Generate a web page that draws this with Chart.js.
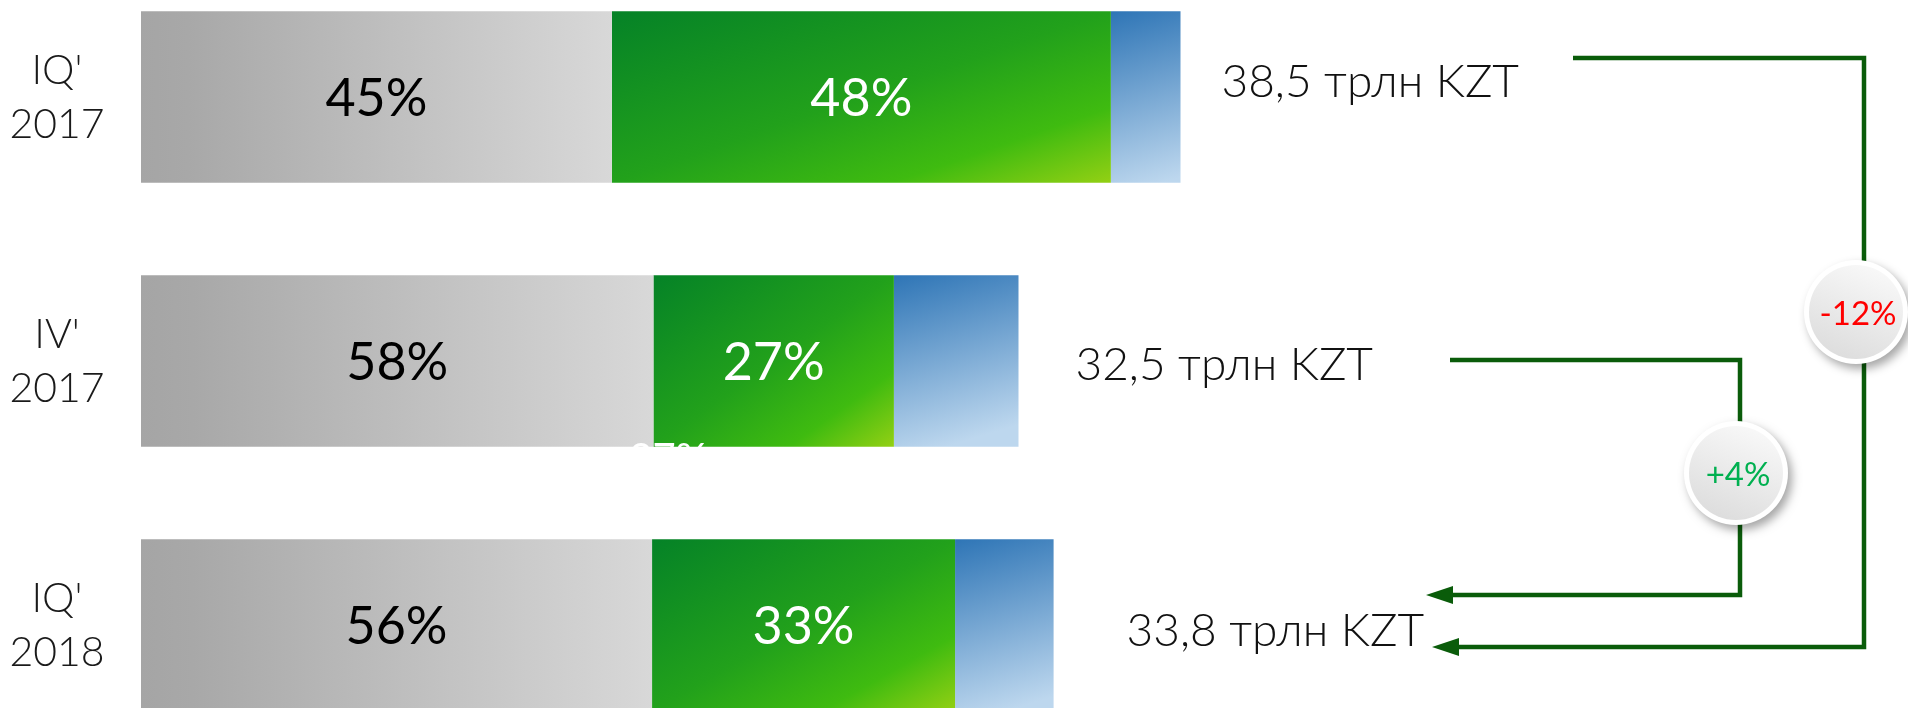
<!DOCTYPE html>
<html>
<head>
<meta charset="utf-8">
<script src="https://cdn.jsdelivr.net/npm/chart.js@4.4.1/dist/chart.umd.min.js"></script>
<style>
    html, body { margin: 0; padding: 0; background: #fff; }
    #wrap { width: 1908px; height: 708px; }
</style>
</head>
<body>
<div id="wrap"><canvas id="myChart" width="1908" height="708"></canvas></div>
<script>
var periods = [["IQ'", "2017"], ["IV'", "2017"], ["IQ'", "2018"]];
var totals = [38.5, 32.5, 33.8];            // трлн KZT
var shareGray = [45.3, 58.4, 56.0];         // %
var shareGreen = [48.0, 27.4, 33.2];
var shareBlue = [6.7, 14.2, 10.8];
var totalLabels = ["38,5 трлн KZT", "32,5 трлн KZT", "33,8 трлн KZT"];
var changeLabels = ["-12%", "+4%"];
var changeColors = ["#ff0000", "#00b050"];

var lineColor = "#0a5c0a";
var catPercent = 0.65;

function partOfTotal (shares) {
    return shares.map(function (s, i) { return totals[i] * s / 100; });
}

// pixel box of one bar, from the scales
function barBox (context) {
    var chart = context.chart;
    var xs = chart.scales.x, ys = chart.scales.y;
    if (!xs || !ys || !chart.chartArea) return null;
    var i = context.dataIndex;
    var start = 0;
    for (var d = 0; d < context.datasetIndex; d++) {
        start += chart.data.datasets[d].data[i];
    }
    var end = start + chart.data.datasets[context.datasetIndex].data[i];
    var pitch = Math.abs(ys.getPixelForValue(1) - ys.getPixelForValue(0));
    var h = pitch * catPercent;
    var yc = ys.getPixelForValue(i);
    return { x0: xs.getPixelForValue(start), x1: xs.getPixelForValue(end), y0: yc - h / 2, y1: yc + h / 2 };
}

// diagonal gradient, corner to corner, the way office "scaled with shape" does it
function diagGradient (c, b, stops) {
    var w = b.x1 - b.x0, h = b.y1 - b.y0;
    var k = 2 * w * h / (w * w + h * h);
    var g = c.createLinearGradient(b.x0, b.y0, b.x0 + h * k, b.y0 + w * k);
    stops.forEach(function (s) { g.addColorStop(s[0], s[1]); });
    return g;
}

function grayFill (context) {
    var b = barBox(context);
    if (!b) return "#bdbdbd";
    var g = context.chart.ctx.createLinearGradient(b.x0, 0, b.x1, 0);
    g.addColorStop(0, "#a5a5a5");
    g.addColorStop(0.1, "#a8a8a8");
    g.addColorStop(1, "#d8d8d8");
    return g;
}

function greenFill (context) {
    var b = barBox(context);
    if (!b) return "#2aa81a";
    return diagGradient(context.chart.ctx, b, [[0, "#058227"], [0.5, "#22a11b"], [0.78, "#3fbb10"], [1, "#93d014"]]);
}

// blue runs mostly top to bottom, leaning a little
function blueFill (context) {
    var b = barBox(context);
    if (!b) return "#7aa9d8";
    var h = b.y1 - b.y0;
    var g = context.chart.ctx.createLinearGradient(b.x0, b.y0, b.x0 + h * 0.3, b.y1);
    g.addColorStop(0, "#2e75b6");
    g.addColorStop(1, "#bdd7ee");
    return g;
}

function drawArrowLine (c, pts) {
    c.beginPath();
    c.moveTo(pts[0][0], pts[0][1]);
    for (var i = 1; i < pts.length; i++) c.lineTo(pts[i][0], pts[i][1]);
    c.stroke();
    // arrow head at the last point, pointing left
    var last = pts[pts.length - 1];
    c.beginPath();
    c.moveTo(last[0] - 27, last[1]);
    c.lineTo(last[0], last[1] - 9);
    c.lineTo(last[0], last[1] + 9);
    c.closePath();
    c.fill();
}

function drawBadge (c, cx, cy, text, color) {
    c.save();
    c.shadowColor = "rgba(0,0,0,0.35)";
    c.shadowBlur = 10;
    c.shadowOffsetX = 4;
    c.shadowOffsetY = 5;
    c.fillStyle = "#ffffff";
    c.beginPath();
    c.arc(cx, cy, 52, 0, Math.PI * 2);
    c.fill();
    c.restore();
    var g = c.createLinearGradient(cx + 20, cy - 48, cx - 20, cy + 48);
    g.addColorStop(0, "#f9f9f9");
    g.addColorStop(1, "#dcdcdc");
    c.fillStyle = g;
    c.beginPath();
    c.arc(cx, cy, 47, 0, Math.PI * 2);
    c.fill();
    c.fillStyle = color;
    c.font = "400 33px Lato";
    c.textAlign = "center";
    c.textBaseline = "alphabetic";
    c.fillText(text, cx + 2, cy + 13);
}

var labelPlugin = {
    id: "labels",
    afterDatasetsDraw: function (chart) {
        var c = chart.ctx, xs = chart.scales.x, ys = chart.scales.y;
        c.save();
        c.textAlign = "center";
        c.textBaseline = "alphabetic";

        // period names on the left, two lines each
        c.fillStyle = "#1a1a1a";
        c.font = "300 41px Lato";
        periods.forEach(function (p, i) {
            var yc = ys.getPixelForValue(i);
            c.fillText(p[0], 57, yc - 13);
            c.fillText(p[1], 57, yc + 41);
        });

        // rounded percentages inside the gray and green parts
        [[0, shareGray, "#000000"], [1, shareGreen, "#ffffff"]].forEach(function (cfg) {
            var meta = chart.getDatasetMeta(cfg[0]);
            meta.data.forEach(function (bar, i) {
                var p = bar.getProps(["x", "y", "base"], true);
                c.fillStyle = cfg[2];
                c.font = "400 52px Lato";
                c.fillText(Math.round(cfg[1][i]) + "%", (p.x + p.base) / 2, p.y + 19);
            });
        });

        // stray white label under the second bar, as in the original slide
        var stray = chart.getDatasetMeta(0).data[1].getProps(["x", "y"], true);
        c.fillStyle = "#ffffff";
        c.font = "400 40px Lato";
        c.fillText(Math.round(shareGreen[1]) + "%", stray.x + 15, stray.y + 111);

        // totals to the right of each bar
        var gaps = [41, 57, 73];
        var drops = [0, 19, 21];
        c.textAlign = "left";
        c.fillStyle = "#111111";
        c.font = "300 46px Lato";
        totals.forEach(function (t, i) {
            c.fillText(totalLabels[i], xs.getPixelForValue(t) + gaps[i], ys.getPixelForValue(i) + drops[i]);
        });

        // connectors
        var y0 = ys.getPixelForValue(0), y1 = ys.getPixelForValue(1), y2 = ys.getPixelForValue(2);
        c.strokeStyle = lineColor;
        c.fillStyle = lineColor;
        c.lineWidth = 4.5;
        drawArrowLine(c, [[1573, y0 - 39], [1864, y0 - 39], [1864, y2 + 22], [1459, y2 + 22]]);
        drawArrowLine(c, [[1450, y1 - 1], [1740, y1 - 1], [1740, y2 - 30], [1453, y2 - 30]]);

        drawBadge(c, 1856, y1 - 49, changeLabels[0], changeColors[0]);
        drawBadge(c, 1736, y1 + 112, changeLabels[1], changeColors[1]);
        c.restore();
    }
};

var config = {
    type: "bar",
    data: {
        labels: periods,
        datasets: [
            { label: "gray", data: partOfTotal(shareGray), backgroundColor: grayFill, clip: false },
            { label: "green", data: partOfTotal(shareGreen), backgroundColor: greenFill, clip: false },
            { label: "blue", data: partOfTotal(shareBlue), backgroundColor: blueFill, clip: false }
        ]
    },
    options: {
        indexAxis: "y",
        responsive: false,
        animation: false,
        devicePixelRatio: 1,
        barPercentage: 1,
        categoryPercentage: catPercent,
        borderWidth: 0,
        layout: { padding: { top: 97, bottom: 83, left: 141, right: 12 } },
        plugins: {
            legend: { display: false },
            tooltip: { enabled: false }
        },
        scales: {
            x: { type: "linear", stacked: true, min: 0, max: 65, display: false },
            y: { stacked: true, offset: false, display: false }
        }
    },
    plugins: [labelPlugin]
};

window.myChart = new Chart(document.getElementById("myChart").getContext("2d"), config);
</script>
</body>
</html>
